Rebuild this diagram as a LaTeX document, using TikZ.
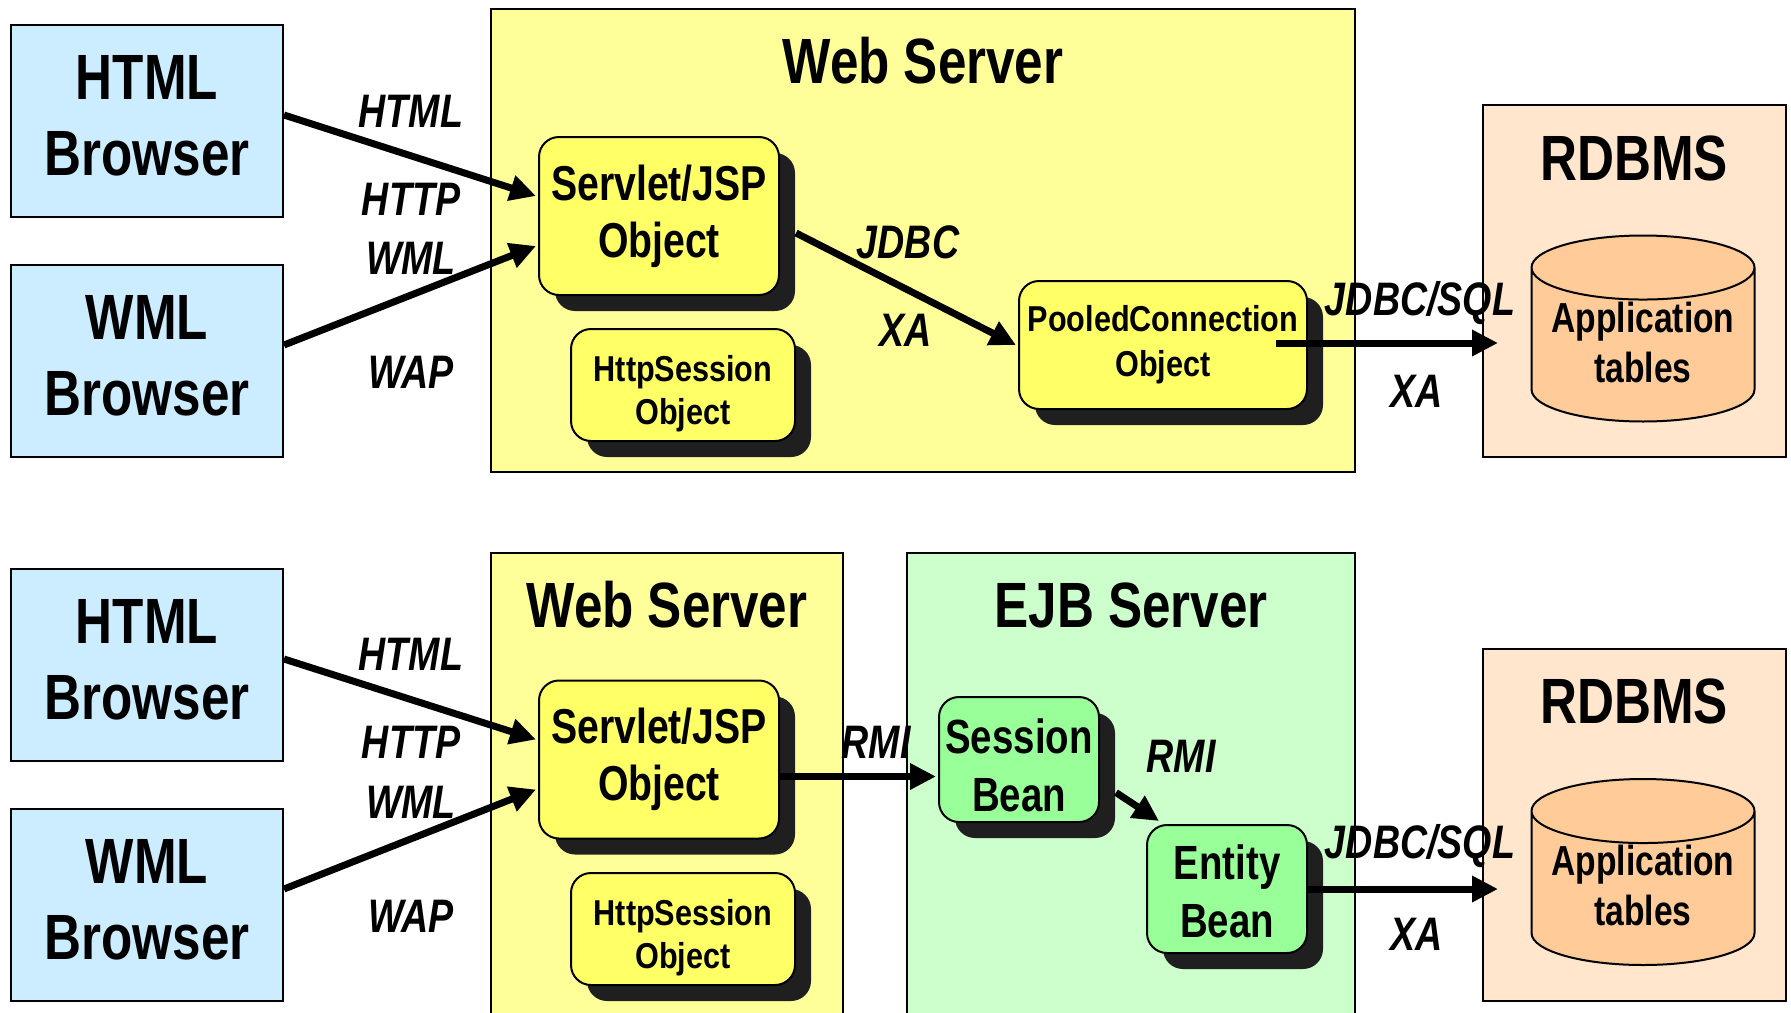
\documentclass[tikz,border=0pt]{standalone}
\usepackage{fontspec}
\setmainfont{Liberation Sans}[FakeStretch=0.8]
\newfontfamily\objfont{Liberation Sans}[FakeStretch=0.85]
\usepackage{tikz}
\usetikzlibrary{calc,arrows.meta,shapes.geometric,shadows}

\definecolor{browserblue}{HTML}{CCECFF}
\definecolor{webyellow}{HTML}{FFFF99}
\definecolor{objyellow}{HTML}{FFFF66}
\definecolor{ejbgreen}{HTML}{CCFFCC}
\definecolor{beangreen}{HTML}{99FF99}
\definecolor{dbpeach}{HTML}{FFE6CC}
\definecolor{dborange}{HTML}{FFCC99}

% invisible struts to nudge text inside a box
\newcommand{\lift}[1]{\rule[-#1]{0pt}{#1}}
\newcommand{\drop}[1]{\rule{0pt}{#1}}

\tikzset{
  browser/.style={draw,line width=2pt,fill=browserblue,minimum width=272pt,minimum height=192pt,
    align=center,font=\fontsize{64}{76}\selectfont\bfseries},
  server/.style={draw,line width=2pt,inner sep=0pt},
  title/.style={font=\fontsize{64}{76}\selectfont\bfseries},
  obj/.style={draw,line width=2pt,rounded corners=20pt,fill=objyellow,align=center,inner sep=2pt,
    drop shadow={opacity=1,fill=black!88,shadow xshift=16pt,shadow yshift=-16pt}},
  bean/.style={obj,fill=beangreen,minimum width=160pt,font=\fontsize{48}{58}\selectfont\bfseries},
  servlet/.style={obj,minimum width=240pt,minimum height=158pt,font=\fontsize{49}{57}\selectfont\bfseries},
  httpsess/.style={obj,minimum width=224pt,minimum height=112pt,font=\objfont\fontsize{36}{43}\selectfont\bfseries},
  db/.style={cylinder,shape border rotate=90,aspect=0.35,draw,line width=2pt,cylinder uses custom fill,
    cylinder body fill=dborange,cylinder end fill=dborange,minimum width=223pt,minimum height=186pt,
    align=center,inner sep=0pt,font=\fontsize{42}{50}\selectfont\bfseries},
  proto/.style={font=\fontsize{47}{50}\selectfont\bfseries\itshape},
  conn/.style={line width=7pt,-{Triangle[length=26pt,width=25pt]}}
}

\begin{document}
\begin{tikzpicture}[x=1pt,y=-1pt]
\useasboundingbox (0,0) rectangle (1791,1012);
% servlet engine only
\node[browser](html1)at(147,121){HTML\\Browser\lift{12pt}};
\node[browser](wml1)at(147,361){WML\\Browser\lift{12pt}};
\node[server,fill=webyellow,minimum width=864pt,minimum height=463pt](web1)at(923,240.5){};
\node[title](tweb1)at(923,61){Web Server};
\node[servlet](srv1)at(659,216){Servlet/JSP\\Object};
\node[httpsess](hs1)at(683,385){\drop{44pt}HttpSession\\Object};
\node[obj,minimum width=288pt,minimum height=128pt,font=\objfont\fontsize{36}{45}\selectfont\bfseries](pool)at(1163,345){PooledConnection\\Object};
\node[server,fill=dbpeach,minimum width=303pt,minimum height=352pt](rdb1)at(1634.5,281){};
\node[title](trdb1)at(1634,158){RDBMS};
\node[db,anchor=shape center](db1)at(1643,328.5){Application\\tables\lift{6pt}};
\draw[conn] ($(html1.east)+(0,-6)$) -- ($(srv1.west)+(-2,-20)$);
\draw[conn] ($(wml1.east)+(0,-16)$) -- ($(srv1.west)+(-2,30)$);
\draw[conn] ($(srv1.east)+(16,17)$) -- ($(pool.west)+(-2,0)$);
\draw[conn] ($(pool.east)+(-32,-2)$) -- ($(pool.east -| rdb1.west)+(16,-2)$);
\node[proto](p1)at(411,111){HTML};
\node[proto](p2)at(411,199){HTTP};
\node[proto](p3)at(411,258){WML};
\node[proto](p4)at(411,372){WAP};
\node[proto](p5)at(908,242){JDBC};
\node[proto](p6)at(906,330){XA};
\node[proto](p7)at(1420,303){JDBC/SQL};
\node[proto](p8)at(1417,391){XA};
% servlet engine + EJB server
\node[browser](html2)at(147,665){HTML\\Browser\lift{12pt}};
\node[browser](wml2)at(147,905){WML\\Browser\lift{12pt}};
\node[server,fill=webyellow,minimum width=352pt,minimum height=480pt](web2)at(667,793){};
\node[server,fill=ejbgreen,minimum width=448pt,minimum height=480pt](ejb)at(1131,793){};
\node[title](tweb2)at(667,605){Web Server};
\node[title](tejb)at(1131,605){EJB Server};
\node[servlet](srv2)at(659,759.5){Servlet/JSP\\Object};
\node[httpsess](hs2)at(683,929){\drop{44pt}HttpSession\\Object};
\node[bean,minimum height=125pt](sb)at(1019,759.5){\drop{46pt}Session\\Bean};
\node[bean,minimum height=128pt](eb)at(1227,889){\drop{40pt}Entity\\Bean};
\node[server,fill=dbpeach,minimum width=303pt,minimum height=352pt](rdb2)at(1634.5,825){};
\node[title](trdb2)at(1634,701){RDBMS};
\node[db,anchor=shape center](db2)at(1643,872){Application\\tables\lift{6pt}};
\draw[conn] ($(html2.east)+(0,-6)$) -- ($(srv2.west)+(-2,-20)$);
\draw[conn] ($(wml2.east)+(0,-16)$) -- ($(srv2.west)+(-2,30)$);
\draw[conn] ($(srv2.east)+(0,17)$) -- ($(sb.west)+(-2,17)$);
\draw[conn] ($(sb.east)+(16,33)$) -- ($(eb.north west)+(13,-3)$);
\draw[conn] (eb.east) -- ($(eb.east -| rdb2.west)+(16,0)$);
\node[proto](q1)at(411,654){HTML};
\node[proto](q2)at(411,742){HTTP};
\node[proto](q3)at(411,802){WML};
\node[proto](q4)at(411,916){WAP};
\node[proto](q5)at(876,742){RMI};
\node[proto](q6)at(1181,756){RMI};
\node[proto](q7)at(1420,846){JDBC/SQL};
\node[proto](q8)at(1417,934){XA};
\end{tikzpicture}
\end{document}
